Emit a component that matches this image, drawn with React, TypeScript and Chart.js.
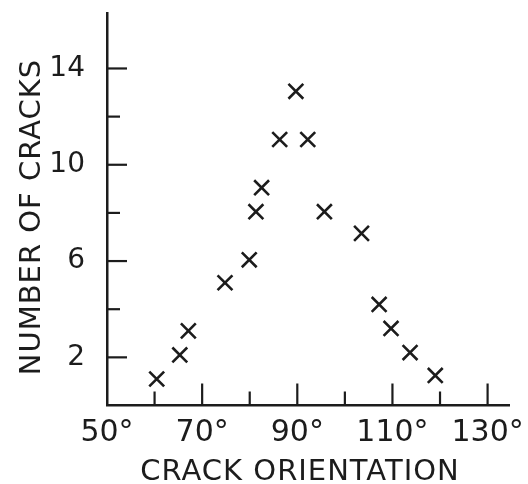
import React, { useEffect, useRef } from "react";
import { Chart, registerables } from "chart.js";

Chart.register(...registerables);

// Crack orientation (degrees) and number of cracks
const orientation = [60.45, 65.3, 67.1, 74.8, 79.9, 81.3, 82.5, 86.3, 89.7, 92.2, 95.7, 103.5, 107.2, 109.7, 113.7, 119.0];
const cracks = [1.1, 2.1, 3.1, 5.1, 6.05, 8.05, 9.05, 11.05, 13.05, 11.05, 8.05, 7.15, 4.2, 3.2, 2.2, 1.25];

const xLabelValues = [50, 70, 90, 110, 130];
const xTickValues = [60, 70, 80, 90, 100, 110, 120, 130];
const yLabelValues = [2, 6, 10, 14];
const yTickValues = [2, 4, 6, 8, 10, 12, 14];

const xTitle = "CRACK ORIENTATION";
const yTitle = "NUMBER OF CRACKS";

const INK = "#1c1c1c";
const FONT = "DejaVu Sans";

const inwardTicks = {
  id: "inwardTicks",
  afterDraw(chart: any) {
    const { ctx, chartArea, scales } = chart;
    const x = scales.x;
    const y = scales.y;
    ctx.save();
    ctx.strokeStyle = INK;
    ctx.lineWidth = 2.2;
    xTickValues.forEach((v) => {
      const px = x.getPixelForValue(v);
      const len = xLabelValues.includes(v) ? 22 : 14;
      ctx.beginPath();
      ctx.moveTo(px, chartArea.bottom);
      ctx.lineTo(px, chartArea.bottom - len);
      ctx.stroke();
    });
    yTickValues.forEach((v) => {
      const py = y.getPixelForValue(v);
      const len = yLabelValues.includes(v) ? 20 : 13;
      ctx.beginPath();
      ctx.moveTo(chartArea.left, py);
      ctx.lineTo(chartArea.left + len, py);
      ctx.stroke();
    });

    // axis titles
    ctx.fillStyle = INK;
    ctx.font = `29px "${FONT}"`;
    (ctx as any).letterSpacing = "1px";
    ctx.textAlign = "center";
    ctx.textBaseline = "middle";
    ctx.fillText(xTitle, 300, 472);
    ctx.translate(32, 217);
    ctx.rotate(-Math.PI / 2);
    ctx.fillText(yTitle, 0, 0);
    (ctx as any).letterSpacing = "0px";
    ctx.restore();
  },
};

const noPad = (s: any) => {
  s.paddingTop = 0;
  s.paddingBottom = 0;
  s.paddingLeft = 0;
  s.paddingRight = 0;
};

export default function App() {
  const ref = useRef<HTMLCanvasElement | null>(null);

  useEffect(() => {
    if (!ref.current) return;
    const chart = new Chart(ref.current, {
      type: "scatter",
      data: {
        datasets: [
          {
            data: orientation.map((o, i) => ({ x: o, y: cracks[i] })),
            pointStyle: "crossRot",
            pointRadius: 10.5,
            pointBorderWidth: 2.6,
            borderColor: INK,
            backgroundColor: INK,
          },
        ],
      },
      plugins: [inwardTicks],
      options: {
        animation: false,
        responsive: false,
        devicePixelRatio: 1,
        layout: { padding: { top: 10, right: 19, left: 0, bottom: 0 } },
        plugins: { legend: { display: false }, tooltip: { enabled: false } },
        scales: {
          x: {
            type: "linear",
            min: 50,
            max: 134.5,
            afterBuildTicks: (s: any) => {
              s.ticks = xLabelValues.map((v) => ({ value: v }));
            },
            afterFit: (s: any) => {
              s.height = 78.5;
              noPad(s);
            },
            grid: { display: false, drawTicks: false },
            border: { display: true, color: INK, width: 2.5 },
            ticks: {
              callback: (v: any) => v + "°",
              color: INK,
              font: { family: FONT, size: 30 },
              padding: 10,
              maxRotation: 0,
              autoSkip: false,
            },
            title: { display: false },
          },
          y: {
            type: "linear",
            min: 0,
            max: 16.3,
            afterBuildTicks: (s: any) => {
              s.ticks = yLabelValues.map((v) => ({ value: v }));
            },
            afterFit: (s: any) => {
              s.width = 107;
              noPad(s);
            },
            grid: { display: false, drawTicks: false },
            border: { display: true, color: INK, width: 2.5 },
            ticks: {
              color: INK,
              font: { family: FONT, size: 28 },
              padding: 22,
              autoSkip: false,
            },
            title: { display: false },
          },
        },
      },
    });
    return () => chart.destroy();
  }, []);

  return (
    <div style={{ position: "absolute", left: 0, top: 0, width: 528, height: 484, background: "#fff" }}>
      <canvas ref={ref} width={528} height={484} />
    </div>
  );
}
